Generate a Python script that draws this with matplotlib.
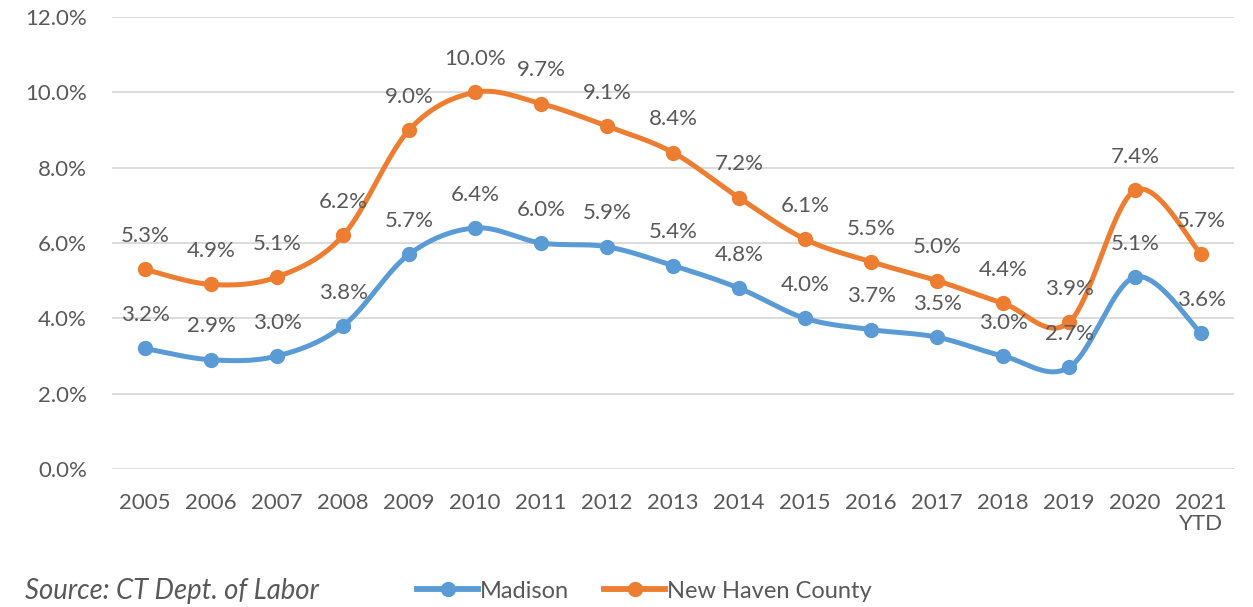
import numpy as np
import matplotlib.pyplot as plt
from matplotlib.ticker import FuncFormatter

plt.rcParams['font.family'] = ['Lato', 'DejaVu Sans']

# Date: rata somajului (%)
ani = ['2005', '2006', '2007', '2008', '2009', '2010', '2011', '2012', '2013',
       '2014', '2015', '2016', '2017', '2018', '2019', '2020', '2021\nYTD']
madison = [3.2, 2.9, 3.0, 3.8, 5.7, 6.4, 6.0, 5.9, 5.4, 4.8, 4.0, 3.7, 3.5, 3.0, 2.7, 5.1, 3.6]
new_haven = [5.3, 4.9, 5.1, 6.2, 9.0, 10.0, 9.7, 9.1, 8.4, 7.2, 6.1, 5.5, 5.0, 4.4, 3.9, 7.4, 5.7]

ALBASTRU = '#5B9BD5'
PORTOCALIU = '#ED7D31'
GRI_TEXT = '#595959'


# Linie netezita ca in Excel (segmente Bezier cubice, tip Catmull-Rom)
def linie_neteda(x, y, n=40):
    p = np.column_stack([x, y]).astype(float)
    ext = np.vstack([p[0], p, p[-1]])
    out = []
    t = np.linspace(0, 1, n)[:, None]
    for i in range(len(p) - 1):
        p0, p3 = ext[i + 1], ext[i + 2]
        p1 = p0 + (ext[i + 2] - ext[i]) / 6
        p2 = p3 - (ext[i + 3] - ext[i + 1]) / 6
        seg = ((1 - t) ** 3) * p0 + 3 * ((1 - t) ** 2) * t * p1 + 3 * (1 - t) * t ** 2 * p2 + t ** 3 * p3
        out.append(seg if i == 0 else seg[1:])
    out = np.vstack(out)
    return out[:, 0], out[:, 1]


x = np.arange(len(ani))

fig = plt.figure(figsize=(12.53, 6.07), dpi=100)
ax = fig.add_axes([0.0894, 0.2273, 0.8956, 0.7447])

for serie, culoare, nume in [(madison, ALBASTRU, 'Madison'), (new_haven, PORTOCALIU, 'New Haven County')]:
    xs, ys = linie_neteda(x, serie)
    ax.plot(xs, ys, color=culoare, lw=3.6, solid_capstyle='round', zorder=3)
    ax.plot(x, serie, 'o', color=culoare, ms=10, zorder=4)
    ax.plot([], [], '-o', color=culoare, lw=4.2, ms=10, label=nume)
    for xi, v in zip(x, serie):
        ax.annotate(f'{v:.1f}%', (xi, v), xytext=(0, 24), textcoords='offset points',
                    ha='center', va='center', fontsize=16, color=GRI_TEXT, zorder=5)

ax.set_xlim(-0.5, len(ani) - 0.5)
ax.set_ylim(0, 12)
ax.set_yticks(np.arange(0, 13, 2))
ax.yaxis.set_major_formatter(FuncFormatter(lambda v, _: f'{v:.1f}%'))
ax.set_xticks(x)
ax.set_xticklabels(ani, linespacing=1.1)
ax.tick_params(axis='both', length=0, labelsize=16, labelcolor=GRI_TEXT)
ax.tick_params(axis='x', pad=17)
ax.tick_params(axis='y', pad=18)
ax.grid(axis='y', color='#D9D9D9', lw=1.3, zorder=0)
ax.set_axisbelow(True)
for s in ax.spines.values():
    s.set_visible(False)

fig.text(0.02, 0.026, 'Source: CT Dept. of Labor', fontsize=19.8, style='italic',
         color=GRI_TEXT, va='center', ha='left')
fig.legend(loc='center', bbox_to_anchor=(0.514, 0.026), ncol=2, frameon=False,
           fontsize=17, labelcolor=GRI_TEXT, handlelength=2.6, handletextpad=0.05,
           columnspacing=1.5, markerscale=1.0)

plt.savefig('out.png', dpi=100)
